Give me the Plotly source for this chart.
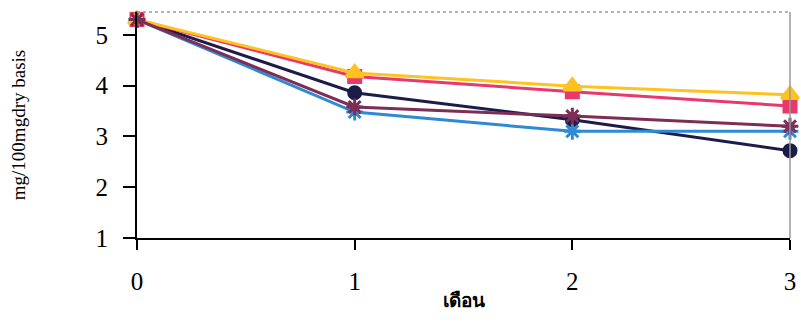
import plotly.graph_objects as go

# Months of storage
months = [0, 1, 2, 3]

# Content (mg/100mg dry basis) per treatment
navy_vals = [5.30, 3.86, 3.33, 2.72]
blue_vals = [5.30, 3.48, 3.10, 3.10]
pink_vals = [5.30, 4.18, 3.88, 3.60]
yellow_vals = [5.30, 4.25, 3.99, 3.82]
maroon_vals = [5.30, 3.58, 3.40, 3.20]

y_ticks = [1, 2, 3, 4, 5]

series = [
    (navy_vals, "#1c1c4a", "circle", 12),
    (blue_vals, "#2f8ad6", "asterisk-open", 14),
    (pink_vals, "#e8386c", "square", 12),
    (yellow_vals, "#ffc21f", "triangle-up", 15),
    (maroon_vals, "#7e2e55", "asterisk-open", 14),
]

fig = go.Figure()
for vals, color, symbol, size in series:
    fig.add_trace(go.Scatter(
        x=months, y=vals, mode="lines+markers",
        line=dict(color=color, width=3),
        marker=dict(symbol=symbol, size=size, color=color,
                    line=dict(color=color, width=3)),
        cliponaxis=False, showlegend=False,
    ))

serif = "Liberation Serif"

fig.update_layout(
    width=801, height=335,
    margin=dict(l=137, r=5, t=12, b=97),
    paper_bgcolor="white", plot_bgcolor="white",
    xaxis=dict(
        range=[0, 3], tickvals=months, ticktext=[str(m) for m in months],
        showline=True, linecolor="black", linewidth=2,
        ticks="outside", ticklen=10, tickwidth=2, tickcolor="black",
        showgrid=False, zeroline=False,
        tickfont=dict(family=serif, size=25, color="black"),
        ticklabelstandoff=10, ticklabeloverflow="allow",
        title=dict(text="<b>เดือน</b>", standoff=0,
                   font=dict(family="Noto Sans, DejaVu Sans, sans-serif",
                             size=19, color="black")),
    ),
    yaxis=dict(
        range=[1, 5.45], tickvals=y_ticks,
        showline=True, linecolor="black", linewidth=2,
        ticks="outside", ticklen=12, tickwidth=2, tickcolor="black",
        showgrid=False, zeroline=False,
        tickfont=dict(family=serif, size=25, color="black"),
        ticklabelstandoff=10,
        title=dict(text="mg/100mgdry basis", standoff=65,
                   font=dict(family=serif, size=19, color="black")),
    ),
    shapes=[
        dict(type="line", xref="paper", yref="paper", x0=0, x1=1, y0=1, y1=1,
             line=dict(color="#9a9a9a", width=1.5, dash="dot")),
        dict(type="line", xref="paper", yref="paper", x0=1, x1=1, y0=0, y1=1,
             line=dict(color="#9a9a9a", width=1.5)),
    ],
)

fig.write_html("out.html")
